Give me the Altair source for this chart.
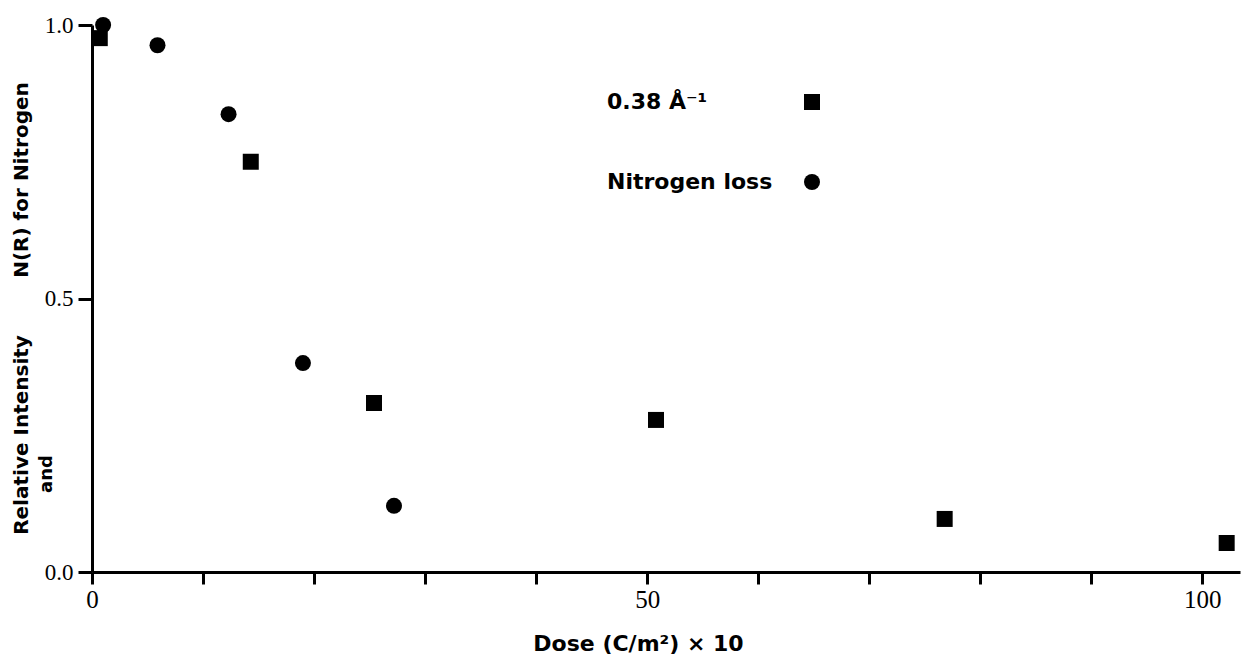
import altair as alt
import pandas as pd

# ---- data ----
square_label = "0.38 Å⁻¹"
circle_label = "Nitrogen loss"

square_dose = [0.7, 14.3, 25.4, 50.8, 76.8, 102.2]
square_val = [0.976, 0.750, 0.309, 0.278, 0.097, 0.053]

circle_dose = [1.0, 5.9, 12.3, 19.0, 27.2]
circle_val = [1.0, 0.963, 0.837, 0.382, 0.121]

x_ticks = [0, 10, 20, 30, 40, 50, 60, 70, 80, 90, 100]
y_ticks = [0.0, 0.5, 1.0]

x_title = "Dose (C/m²) × 10"
y_title_low = "Relative Intensity"
y_title_high = "N(R) for Nitrogen"
y_title_and = "and"

df = pd.DataFrame({
    "dose": square_dose + circle_dose,
    "value": square_val + circle_val,
    "series": [square_label] * len(square_dose) + [circle_label] * len(circle_dose),
})

W, H = 1148, 547
BOLD = "DejaVu Sans"
SERIF = "Liberation Serif"

points = alt.Chart(df).mark_point(filled=True, size=256, opacity=1, color="black").encode(
    x=alt.X("dose:Q",
            scale=alt.Scale(domain=[0, 103.4], nice=False, zero=False),
            axis=alt.Axis(values=x_ticks,
                          labelExpr="datum.value % 50 == 0 ? datum.label : ''",
                          grid=False, domainWidth=3, domainColor="black",
                          tickWidth=3, tickSize=12, tickColor="black",
                          labelFont=SERIF, labelFontSize=25, labelColor="black",
                          labelPadding=3, labelFlush=False,
                          title=x_title, titleFont=BOLD, titleFontWeight="bold",
                          titleFontSize=22, titleColor="black",
                          titleX=546, titleY=71, titleAlign="center",
                          titleBaseline="middle", titleAnchor="start")),
    y=alt.Y("value:Q",
            scale=alt.Scale(domain=[0, 1], nice=False),
            axis=alt.Axis(values=y_ticks, format=".1f", grid=False,
                          domainWidth=3, domainColor="black",
                          tickWidth=3, tickSize=14, tickColor="black",
                          labelFont=SERIF, labelFontSize=23, labelColor="black",
                          labelPadding=5, labelFlush=False, title=None)),
    shape=alt.Shape("series:N",
                    scale=alt.Scale(domain=[square_label, circle_label],
                                    range=["square", "circle"]),
                    legend=alt.Legend(title=None, orient="none",
                                      legendX=709, legendY=66,
                                      labelFont=BOLD, labelFontWeight="bold",
                                      labelFontSize=22, labelColor="black",
                                      labelOffset={"expr": "-216"}, labelAlign="left",
                                      labelLimit=400,
                                      symbolSize=256, symbolFillColor="black",
                                      symbolStrokeColor="black", symbolOpacity=1,
                                      rowPadding=58)),
)


def vtext(label, x, y, size):
    return alt.Chart(alt.Data(values=[{"t": label}])).mark_text(
        angle=270, font=BOLD, fontWeight="bold", fontSize=size,
        color="black", align="center", baseline="middle"
    ).encode(text="t:N", x=alt.value(x), y=alt.value(y))


chart = alt.layer(
    points,
    vtext(y_title_low, -70, 410, 20),
    vtext(y_title_high, -70, 155, 20),
    vtext(y_title_and, -45, 449, 18),
).properties(
    width=W, height=H,
    autosize=alt.AutoSizeParams(type="none"),
    padding={"left": 84, "top": 17, "right": 5, "bottom": 88},
).configure(background="white").configure_view(strokeWidth=0, stroke="transparent")

chart.save("out.html", embed_options={"renderer": "svg", "actions": False})
